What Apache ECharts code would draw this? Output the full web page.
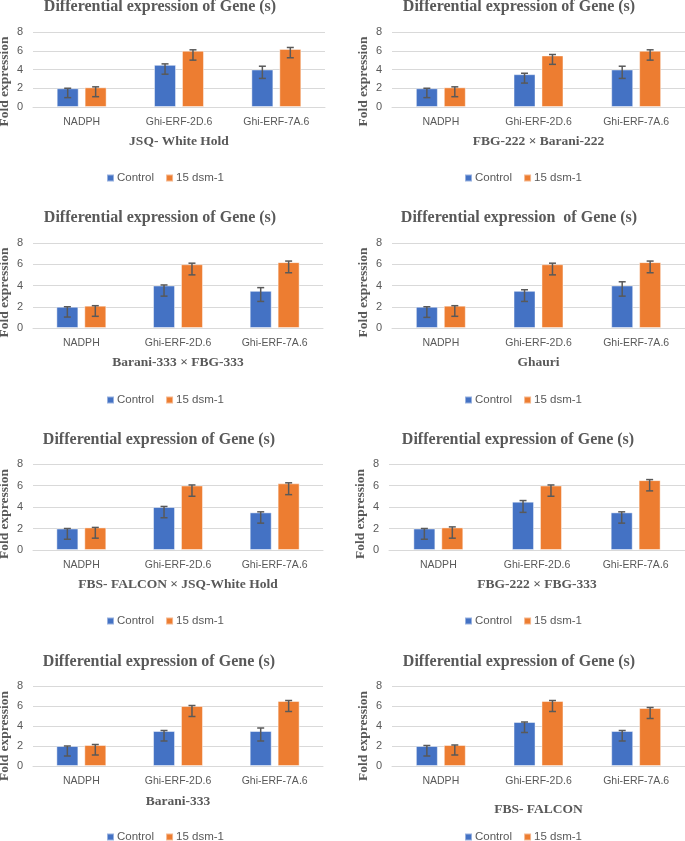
<!DOCTYPE html>
<html><head><meta charset="utf-8">
<script src="https://cdn.jsdelivr.net/npm/echarts@6/dist/echarts.min.js"></script>
<style>html,body{margin:0;padding:0;background:#fff}#c{width:685px;height:841px}</style>
</head><body><div id="c"></div>
<script>
// ---------- DATA ----------
const categories = ['NADPH', 'Ghi-ERF-2D.6', 'Ghi-ERF-7A.6'];
const seriesNames = ['Control', '15 dsm-1'];
const yTicks = [0, 2, 4, 6, 8];
const panelTitles = [
  'Differential expression of Gene (s)',
  'Differential expression of Gene (s)',
  'Differential expression of Gene (s)',
  'Differential expression  of Gene (s)',
  'Differential expression of Gene (s)',
  'Differential expression of Gene (s)',
  'Differential expression of Gene (s)',
  'Differential expression of Gene (s)'
];
const panelLabels = [
  'JSQ- White Hold', 'FBG-222 × Barani-222',
  'Barani-333 × FBG-333', 'Ghauri',
  'FBS- FALCON × JSQ-White Hold', 'FBG-222 × FBG-333',
  'Barani-333', 'FBS- FALCON'
];
const controlValues = [
  [2.0, 4.5, 4.0], [2.0, 3.5, 4.0],
  [2.0, 4.0, 3.5], [2.0, 3.5, 4.0],
  [2.0, 4.0, 3.5], [2.0, 4.5, 3.5],
  [2.0, 3.5, 3.5], [2.0, 4.4, 3.5]
];
const dsmValues = [
  [2.1, 6.0, 6.2], [2.1, 5.5, 6.0],
  [2.1, 6.0, 6.2], [2.1, 6.0, 6.2],
  [2.1, 6.0, 6.2], [2.1, 6.0, 6.5],
  [2.1, 6.0, 6.5], [2.1, 6.5, 5.8]
];
const controlErrLow = [
  [1.0, 3.5, 3.05], [1.0, 2.55, 3.05],
  [1.03, 3.0, 2.5], [1.0, 2.5, 3.0],
  [1.0, 3.0, 2.5], [1.0, 3.5, 2.5],
  [1.0, 2.5, 2.5], [1.0, 3.35, 2.5]
];
const controlErrHigh = [
  [2.0, 4.6, 4.35], [2.0, 3.6, 4.35],
  [2.0, 4.05, 3.8], [2.0, 3.6, 4.35],
  [2.0, 4.05, 3.55], [2.0, 4.6, 3.55],
  [2.0, 3.55, 3.8], [2.05, 4.4, 3.55]
];
const dsmErrLow = [
  [1.1, 5.0, 5.25], [1.1, 4.55, 5.0],
  [1.1, 5.0, 5.2], [1.1, 5.0, 5.2],
  [1.1, 5.0, 5.15], [1.1, 5.0, 5.5],
  [1.1, 4.95, 5.45], [1.1, 5.45, 4.75]
];
const dsmErrHigh = [
  [2.15, 6.1, 6.35], [2.15, 5.6, 6.1],
  [2.1, 6.1, 6.3], [2.1, 6.1, 6.3],
  [2.1, 6.05, 6.25], [2.15, 6.05, 6.55],
  [2.15, 6.05, 6.55], [2.1, 6.55, 5.85]
];

// ---------- LAYOUT / STYLE ----------
const layout = [
  {left: 33,  top: 32,  width: 292, height: 75, tx: 160, ty: 7,   gap: 28, lx: 106, ly: 172, ys: 12},
  {left: 392, top: 32,  width: 293, height: 75, tx: 519, ty: 7,   gap: 28, lx: 464, ly: 172, ys: 12},
  {left: 33,  top: 243, width: 290, height: 85, tx: 160, ty: 218, gap: 28, lx: 106, ly: 394, ys: 7},
  {left: 392, top: 243, width: 293, height: 85, tx: 519, ty: 218, gap: 28, lx: 464, ly: 394, ys: 7},
  {left: 33,  top: 464, width: 290, height: 86, tx: 159, ty: 440, gap: 28, lx: 106, ly: 615, ys: 7},
  {left: 389, top: 464, width: 296, height: 86, tx: 518, ty: 440, gap: 28, lx: 464, ly: 615, ys: 7},
  {left: 33,  top: 686, width: 290, height: 80, tx: 159, ty: 662, gap: 29, lx: 106, ly: 831, ys: 10},
  {left: 392, top: 686, width: 293, height: 80, tx: 519, ty: 662, gap: 37, lx: 464, ly: 831, ys: 10}
];
const COLORS = ['#4472C4', '#ED7D31'];
const TEXT = '#595959';
const GRID = '#D9D9D9';
const SERIF = '"Liberation Serif", "Times New Roman", serif';
const SANS = '"Liberation Sans", Arial, sans-serif';
const BAR_W = 22, BAR_GAP = 0.27, CAP = 3.5;

const chart = echarts.init(document.getElementById('c'), null, {renderer: 'canvas'});
const option = {
  animation: false, backgroundColor: '#fff',
  title: [], legend: [], grid: [], xAxis: [], yAxis: [], series: []
};

function errSeries(i, name, lows, highs, sign) {
  const offset = sign * (BAR_W + BAR_W * BAR_GAP) / 2;
  return {
    type: 'custom', name: name + ' error', xAxisIndex: i, yAxisIndex: i, z: 5,
    silent: true,
    data: categories.map((c, k) => [k, lows[k], highs[k]]),
    encode: {x: 0, y: [1, 2]},
    renderItem: function (params, api) {
      const k = api.value(0);
      const pHi = api.coord([k, api.value(2)]);
      const pLo = api.coord([k, api.value(1)]);
      const x = pHi[0] + offset;
      const st = {stroke: TEXT, lineWidth: 1.5};
      return {type: 'group', children: [
        {type: 'line', shape: {x1: x, y1: pHi[1], x2: x, y2: pLo[1]}, style: st},
        {type: 'line', shape: {x1: x - CAP, y1: pHi[1], x2: x + CAP, y2: pHi[1]}, style: st},
        {type: 'line', shape: {x1: x - CAP, y1: pLo[1], x2: x + CAP, y2: pLo[1]}, style: st}
      ]};
    }
  };
}

layout.forEach((L, i) => {
  option.title.push({
    text: panelTitles[i], left: L.tx, top: L.ty, padding: 0,
    textAlign: 'center', textVerticalAlign: 'middle',
    textStyle: {fontFamily: SERIF, fontWeight: 'bold', fontSize: 16, color: TEXT}
  });
  option.legend.push({
    data: seriesNames, left: L.lx, top: L.ly, padding: 0, orient: 'horizontal',
    icon: 'rect', itemWidth: 7, itemHeight: 7, itemGap: 11, selectedMode: false,
    textStyle: {fontFamily: SANS, fontSize: 11.5, color: TEXT, padding: [0, 0, 0, -2]}
  });
  option.grid.push({left: L.left, top: L.top, width: L.width, height: L.height,
    containLabel: false, outerBoundsMode: 'none'});
  option.xAxis.push({
    type: 'category', gridIndex: i, data: categories,
    name: panelLabels[i], nameLocation: 'middle', nameGap: L.gap,
    nameTextStyle: {fontFamily: SERIF, fontWeight: 'bold', fontSize: 13.5, color: TEXT},
    axisLine: {show: true, lineStyle: {color: GRID, width: 1}},
    axisTick: {show: false},
    axisLabel: {fontFamily: SANS, fontSize: 10.5, color: TEXT, margin: 10, interval: 0},
    splitLine: {show: false}
  });
  option.yAxis.push({
    type: 'value', gridIndex: i, min: yTicks[0], max: yTicks[yTicks.length - 1],
    interval: yTicks[1] - yTicks[0],
    name: 'Fold expression', nameLocation: 'middle', nameRotate: 90, nameGap: 21,
    nameMoveOverlap: false,
    nameTextStyle: {fontFamily: SERIF, fontWeight: 'bold', fontSize: 13.5, color: TEXT,
      padding: [0, L.ys * 2, 0, 0]},
    axisLine: {show: false}, axisTick: {show: false},
    axisLabel: {fontFamily: SANS, fontSize: 11, color: TEXT, margin: 10},
    splitLine: {show: true, lineStyle: {color: GRID, width: 1}}
  });
  option.series.push({
    type: 'bar', name: seriesNames[0], xAxisIndex: i, yAxisIndex: i,
    data: controlValues[i], barWidth: BAR_W, barGap: (BAR_GAP * 100) + '%',
    itemStyle: {color: COLORS[0], borderColor: 'rgba(255,255,255,0.45)', borderWidth: 1}
  });
  option.series.push({
    type: 'bar', name: seriesNames[1], xAxisIndex: i, yAxisIndex: i,
    data: dsmValues[i], barWidth: BAR_W, barGap: (BAR_GAP * 100) + '%',
    itemStyle: {color: COLORS[1], borderColor: 'rgba(255,255,255,0.45)', borderWidth: 1}
  });
  option.series.push(errSeries(i, seriesNames[0], controlErrLow[i], controlErrHigh[i], -1));
  option.series.push(errSeries(i, seriesNames[1], dsmErrLow[i], dsmErrHigh[i], 1));
});

chart.setOption(option);
</script>
</body></html>
